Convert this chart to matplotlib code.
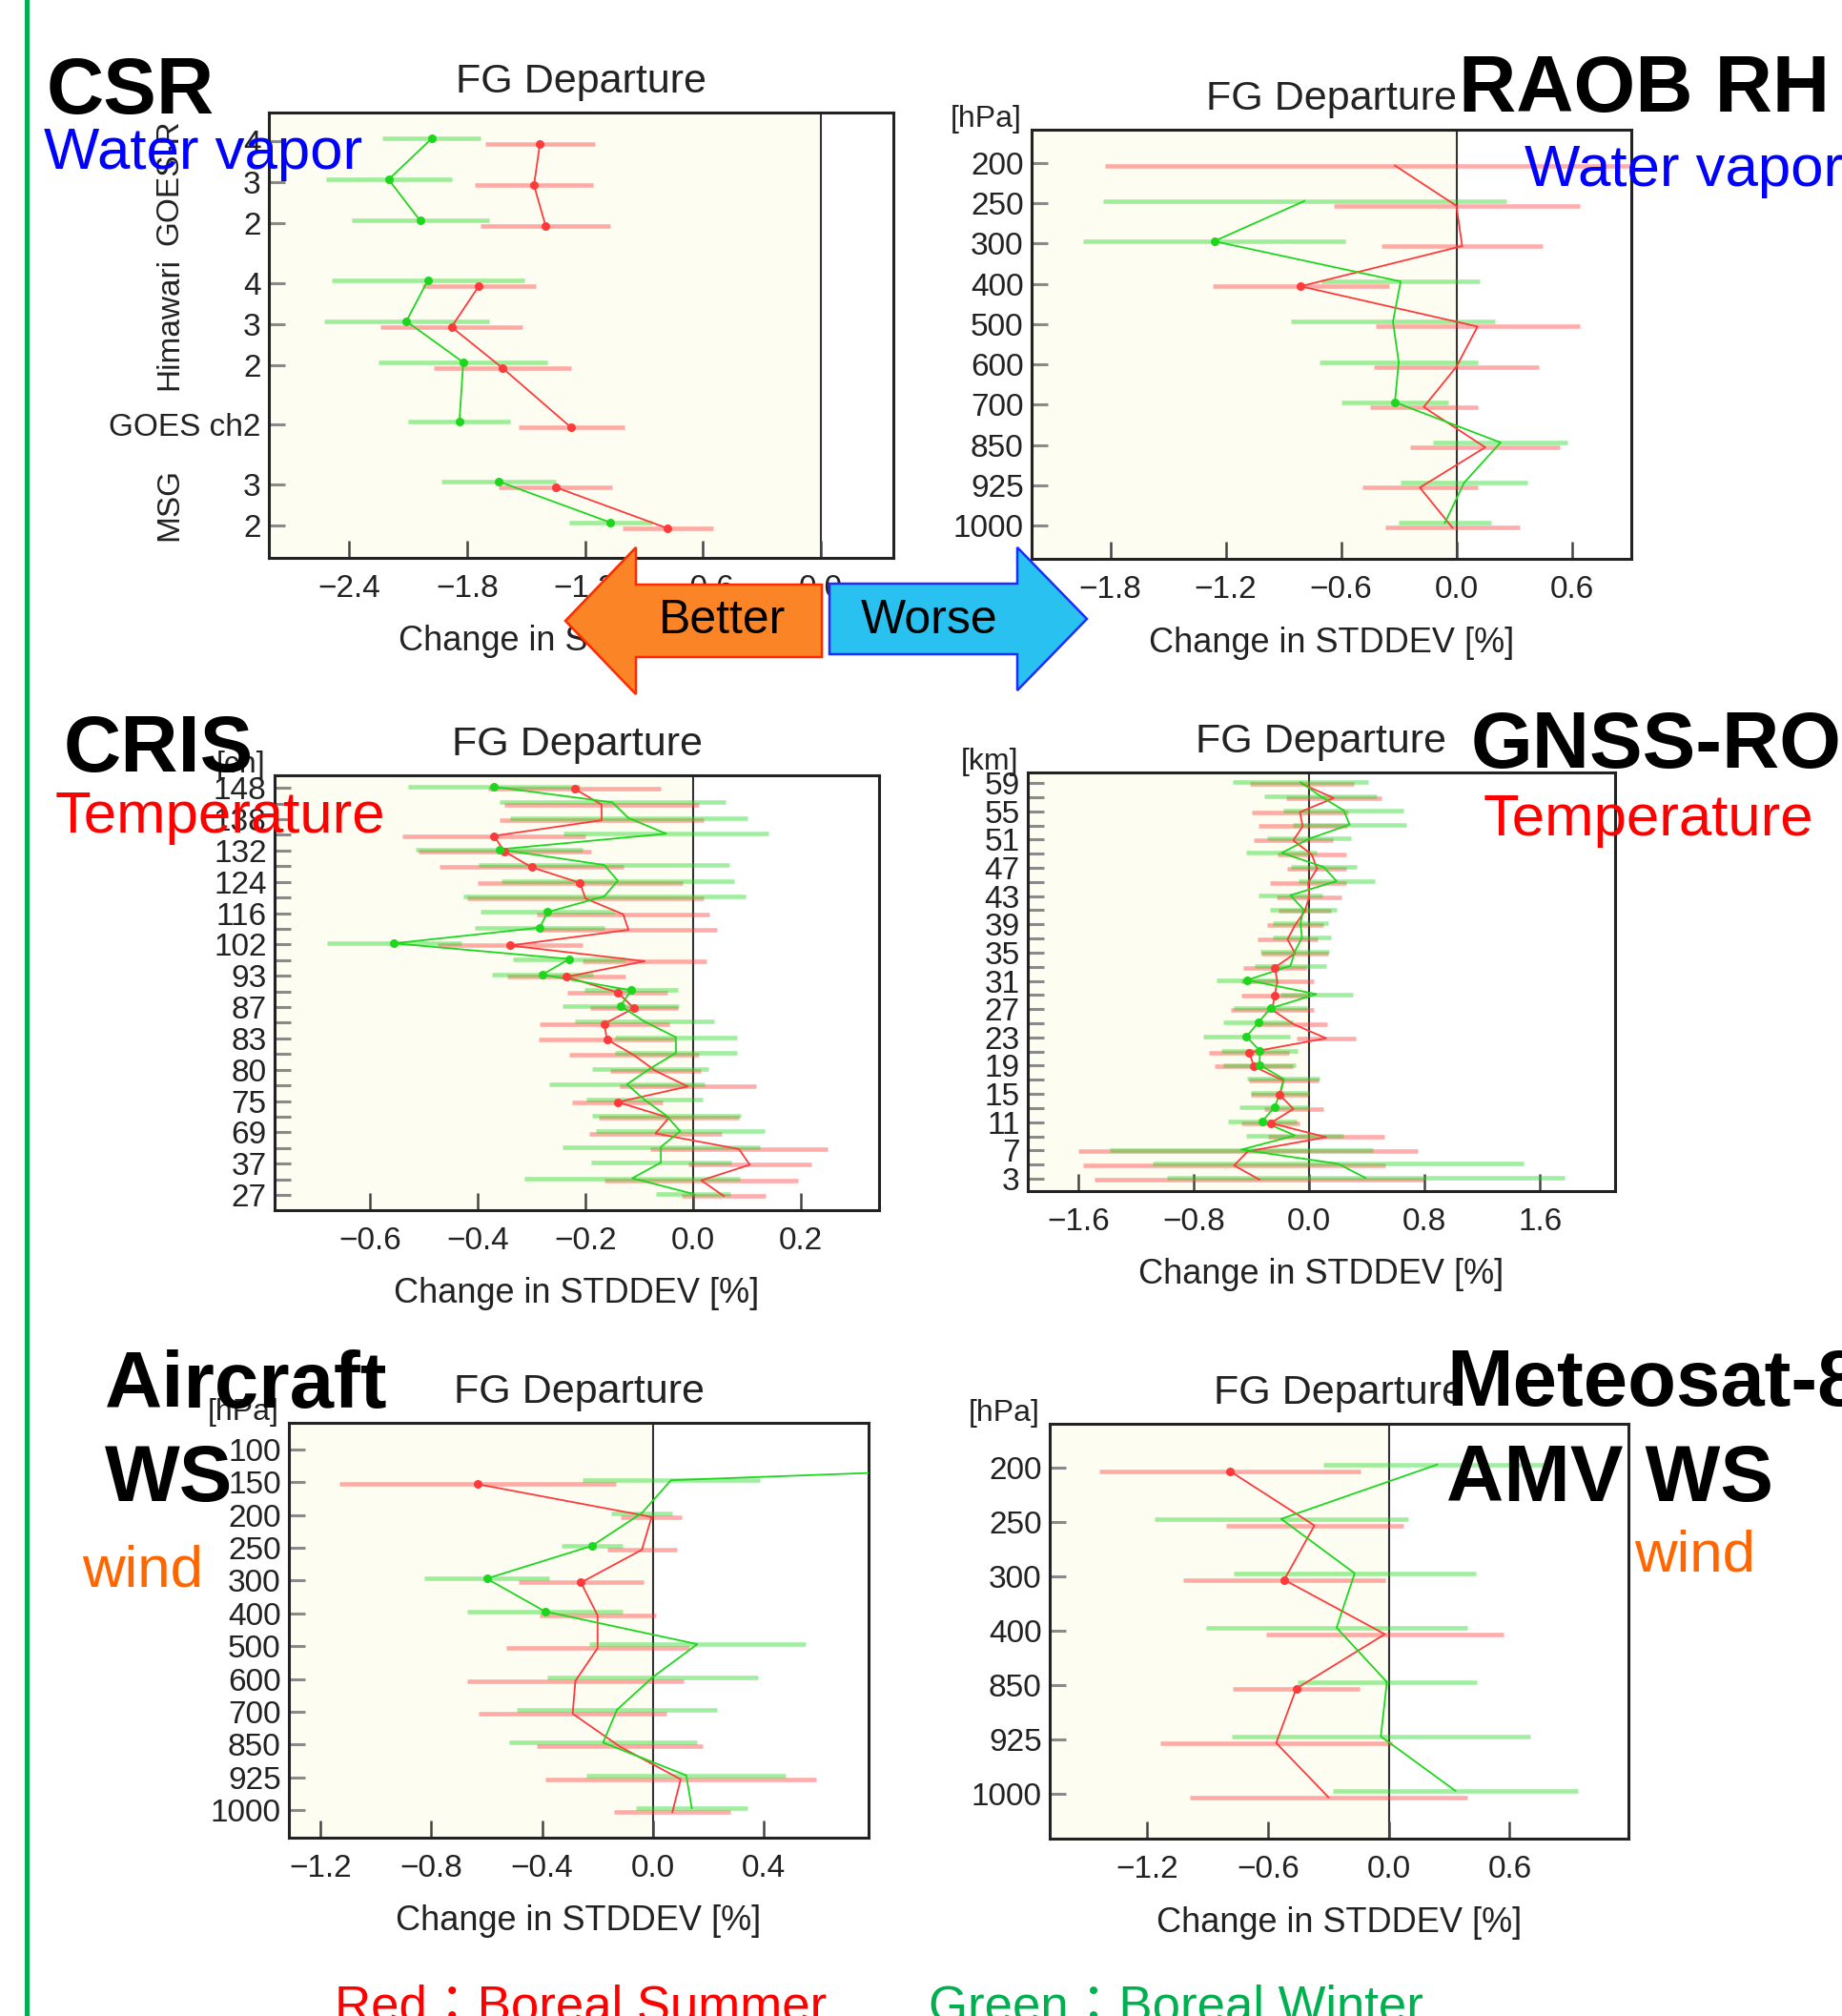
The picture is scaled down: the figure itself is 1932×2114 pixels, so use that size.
import numpy as np
import matplotlib
matplotlib.use("Agg")
import matplotlib.pyplot as plt
from matplotlib.patches import Polygon
from matplotlib.transforms import blended_transform_factory

plt.rcParams['font.family'] = ['Liberation Sans', 'Noto Sans CJK JP', 'DejaVu Sans']

nan = np.nan

# ---------------- data (change in STDDEV [%]) ---------------- #

# CSR water vapour
csr_labels = ['4', '3', '2', '4', '3', '2', 'GOES ch2', '3', '2']
csr_group = ['GOES-R'] * 3 + ['Himawari'] * 3 + ['GOES ch2'] + ['MSG'] * 2
csr_segments = [[0, 1, 2], [3, 4, 5, 6], [7, 8]]
csr_red = [-1.43, -1.46, -1.40, -1.74, -1.88, -1.62, -1.27, -1.35, -0.78]
csr_red_err = [0.28, 0.30, 0.33, 0.29, 0.36, 0.35, 0.27, 0.29, 0.23]
csr_red_sig = [0, 1, 2, 3, 4, 5, 6, 7, 8]
csr_green = [-1.98, -2.20, -2.04, -2.00, -2.11, -1.82, -1.84, -1.64, -1.07]
csr_green_err = [0.25, 0.32, 0.35, 0.49, 0.42, 0.43, 0.26, 0.29, 0.21]
csr_green_sig = [0, 1, 2, 3, 4, 5, 6, 7, 8]

# RAOB RH
raob_levels = ['200', '250', '300', '400', '500', '600', '700', '850', '925', '1000']
raob_red = [-0.32, 0.00, 0.03, -0.81, 0.11, 0.00, -0.17, 0.15, -0.19, -0.02]
raob_red_err = [1.51, 0.64, 0.42, 0.46, 0.53, 0.43, 0.28, 0.39, 0.30, 0.35]
raob_red_sig = [3]
raob_green = [nan, -0.79, -1.26, -0.29, -0.33, -0.30, -0.32, 0.23, 0.04, -0.06]
raob_green_err = [nan, 1.05, 0.68, 0.41, 0.53, 0.41, 0.28, 0.35, 0.33, 0.24]
raob_green_sig = [2, 6]

# CRIS temperature channels (27 channels, every other one labelled)
cris_labels = ['148', '138', '132', '124', '116', '102', '93', '87', '83', '80', '75', '69', '37', '27']
cris_red = [-0.22, -0.17, -0.17, -0.37, -0.35, -0.30, -0.21, -0.20, -0.13, -0.12, -0.34, -0.09, -0.235, -0.14,
            -0.11, -0.165, -0.16, -0.11, -0.07, -0.01, -0.14, -0.045, -0.07, 0.085, 0.105, 0.015, 0.057]
cris_red_err = [0.16, 0.18, 0.19, 0.17, 0.16, 0.17, 0.19, 0.22, 0.16, 0.165, 0.135, 0.115, 0.11, 0.093,
                0.082, 0.12, 0.127, 0.12, 0.084, 0.127, 0.084, 0.13, 0.123, 0.165, 0.114, 0.18, 0.078]
cris_red_sig = [0, 3, 4, 5, 6, 10, 12, 13, 14, 15, 16, 20]
cris_green = [-0.37, -0.15, -0.12, -0.05, -0.36, -0.165, -0.14, -0.165, -0.27, -0.285, -0.555, -0.23, -0.28, -0.115,
              -0.135, -0.09, -0.032, -0.032, -0.08, -0.123, -0.09, -0.05, -0.024, -0.06, -0.06, -0.113, 0.0]
cris_green_err = [0.16, 0.21, 0.22, 0.19, 0.155, 0.233, 0.216, 0.262, 0.125, 0.12, 0.124, 0.105, 0.094, 0.086,
                  0.108, 0.129, 0.113, 0.114, 0.108, 0.145, 0.108, 0.138, 0.157, 0.183, 0.13, 0.20, 0.069]
cris_green_sig = [0, 4, 8, 9, 10, 11, 12, 13, 14]

# GNSS-RO bending angle by impact height [km]
gnss_km = [59, 57, 55, 53, 51, 49, 47, 45, 43, 41, 39, 37, 35, 33, 31,
           29, 27, 25, 23, 21, 19, 17, 15, 13, 11, 9, 7, 5, 3]
gnss_red = [-0.05, 0.17, -0.064, -0.045, -0.11, 0.018, 0.055, -0.007, 0.0, -0.03, -0.098, -0.15, -0.098, -0.239, -0.22,
            -0.241, -0.255, -0.109, 0.118, -0.416, -0.382, -0.177, -0.205, -0.109, -0.268, 0.118, -0.425, -0.52, -0.345]
gnss_red_err = [0.36, 0.33, 0.335, 0.307, 0.275, 0.24, 0.205, 0.267, 0.227, 0.18, 0.193, 0.21, 0.23, 0.218, 0.25,
                0.227, 0.286, 0.233, 0.205, 0.278, 0.27, 0.24, 0.2, 0.205, 0.2, 0.403, 1.175, 1.045, 1.14]
gnss_red_sig = [13, 15, 19, 20, 22, 24]
gnss_green = [-0.06, 0.08, 0.24, 0.28, 0.0, -0.19, 0.1, 0.19, -0.13, -0.04, -0.06, -0.05, -0.1, -0.13, -0.43,
              0.05, -0.268, -0.352, -0.434, -0.343, -0.343, -0.177, -0.2, -0.241, -0.325, -0.098, -0.47, 0.2, 0.39]
gnss_green_err = [0.47, 0.39, 0.416, 0.394, 0.292, 0.244, 0.227, 0.265, 0.224, 0.23, 0.193, 0.2, 0.235, 0.247, 0.21,
                  0.25, 0.252, 0.241, 0.30, 0.265, 0.25, 0.252, 0.202, 0.24, 0.235, 0.337, 0.91, 1.286, 1.378]
gnss_green_sig = [14, 16, 17, 18, 19, 20, 23, 24]

# Aircraft wind speed
air_levels = ['100', '150', '200', '250', '300', '400', '500', '600', '700', '850', '925', '1000']
air_red = [nan, -0.633, -0.005, -0.04, -0.26, -0.20, -0.20, -0.28, -0.29, -0.12, 0.10, 0.07]
air_red_err = [nan, 0.50, 0.11, 0.125, 0.225, 0.21, 0.33, 0.39, 0.34, 0.30, 0.49, 0.21]
air_red_sig = [1, 4]
air_green = [3.3, 0.065, -0.04, -0.22, -0.60, -0.39, 0.16, 0.0, -0.13, -0.18, 0.12, 0.14]
air_green_err = [nan, 0.32, 0.11, 0.11, 0.225, 0.28, 0.39, 0.38, 0.36, 0.34, 0.36, 0.20]
air_green_sig = [3, 4, 5]

# Meteosat-8 AMV wind speed
met_levels = ['200', '250', '300', '400', '850', '925', '1000']
met_red = [-0.79, -0.37, -0.52, -0.02, -0.46, -0.56, -0.30]
met_red_err = [0.65, 0.44, 0.50, 0.59, 0.315, 0.575, 0.69]
met_red_sig = [0, 2, 4]
met_green = [0.24, -0.535, -0.17, -0.26, -0.01, -0.04, 0.33]
met_green_err = [0.565, 0.63, 0.60, 0.65, 0.445, 0.74, 0.61]
met_green_sig = []

# ---------------- figure ---------------- #

W, H = 1933, 2114
fig = plt.figure(figsize=(W / 100, H / 100), dpi=100)

RED = '#ff3a3a'
GREEN = '#1fd61f'
CREAM = '#fdfdf2'
TXT = '#222222'


def add_panel(l, r, t, b):
    return fig.add_axes([l / W, 1 - b / H, (r - l) / W, (b - t) / H])


def fmt(v):
    s = f"{v:.1f}"
    if s == '-0.0':
        s = '0.0'
    return s.replace('-', '\u2212')


def style_panel(ax, xlim, xticks, ylim, yticks, yticklabels, unit=None):
    ax.set_facecolor('white')
    ax.axvspan(xlim[0], 0, color=CREAM, zorder=0, lw=0)
    ax.axvline(0, color='#333333', lw=1.5, zorder=1)
    ax.set_xlim(xlim)
    ax.set_ylim(ylim)
    ax.set_xticks(xticks)
    ax.set_xticklabels([fmt(v) for v in xticks])
    ax.set_yticks(yticks)
    ax.set_yticklabels(yticklabels)
    ax.tick_params(axis='x', direction='in', length=13, width=1.8, color='#444444',
                   labelsize=24, labelcolor=TXT, pad=12)
    ax.tick_params(axis='y', direction='in', length=12, width=2.2, color='#8a8a8a',
                   labelsize=24, labelcolor=TXT, pad=6)
    for sp in ax.spines.values():
        sp.set_linewidth(2.2)
        sp.set_color('#222222')
    ax.set_title('FG Departure', fontsize=31, color=TXT, pad=15)
    bb = ax.get_position()
    w_px, h_px = bb.width * W, bb.height * H
    ax.set_xlabel('Change in STDDEV [%]', fontsize=26, color=TXT)
    ax.xaxis.set_label_coords(0.5, -88 / h_px)
    ax.xaxis.label.set_verticalalignment('center')
    if unit:
        ax.text(-10 / w_px, 1 + 11 / h_px, unit, transform=ax.transAxes, ha='right', va='center',
                fontsize=23, color=TXT)


def draw_series(ax, y, vals, errs, sig, color, segments=None):
    y = np.asarray(y, float)
    vals = np.asarray(vals, float)
    errs = np.asarray(errs, float)
    ax.errorbar(vals, y, xerr=errs, fmt='none', ecolor=color, elinewidth=3.3, alpha=0.42,
                capsize=0, zorder=3)
    segs = segments if segments else [list(range(len(vals)))]
    for s in segs:
        ax.plot(vals[s], y[s], color=color, lw=1.3, zorder=4)
    if len(sig):
        ax.plot(vals[sig], y[sig], 'o', color=color, ms=6.5, mec='none', zorder=5)


def draw_pair(ax, pos, red, red_err, red_sig, green, green_err, green_sig, dy, segments=None):
    pos = np.asarray(pos, float)
    draw_series(ax, pos + dy, red, red_err, red_sig, RED, segments)
    draw_series(ax, pos - dy, green, green_err, green_sig, GREEN, segments)


# --- CSR ---
csr_pos = []
p = 0.0
for i, g in enumerate(csr_group):
    if i > 0:
        p += 1.0 if g == csr_group[i - 1] else 1.45
    csr_pos.append(p)
ax1 = add_panel(282, 937, 118, 585)
style_panel(ax1, (-2.81, 0.37), [-2.4, -1.8, -1.2, -0.6, 0.0], (10.14, -0.70), csr_pos, csr_labels)
draw_pair(ax1, csr_pos, csr_red, csr_red_err, csr_red_sig, csr_green, csr_green_err, csr_green_sig,
          0.07, csr_segments)
bt = blended_transform_factory(ax1.transAxes, ax1.transData)
for name in ['GOES-R', 'Himawari', 'MSG']:
    yc = np.mean([csr_pos[i] for i, g in enumerate(csr_group) if g == name])
    ax1.text(-0.159, yc, name, transform=bt, rotation=90, ha='center', va='center',
             fontsize=24, color=TXT)

# --- RAOB RH ---
ax2 = add_panel(1082, 1711, 136, 586)
raob_pos = list(range(len(raob_levels)))
style_panel(ax2, (-2.21, 0.91), [-1.8, -1.2, -0.6, 0.0, 0.6], (9.83, -0.83), raob_pos, raob_levels, '[hPa]')
draw_pair(ax2, raob_pos, raob_red, raob_red_err, raob_red_sig, raob_green, raob_green_err, raob_green_sig, 0.06)

# --- CRIS ---
ax3 = add_panel(288, 922, 813, 1269)
cris_pos = list(range(len(cris_red)))
cris_ticklabels = [cris_labels[i // 2] if i % 2 == 0 else '' for i in cris_pos]
style_panel(ax3, (-0.777, 0.345), [-0.6, -0.4, -0.2, 0.0, 0.2], (26.97, -0.80), cris_pos, cris_ticklabels, '[ch]')
draw_pair(ax3, cris_pos, cris_red, cris_red_err, cris_red_sig, cris_green, cris_green_err, cris_green_sig, 0.07)

# --- GNSS-RO ---
ax4 = add_panel(1078, 1694, 810, 1249)
gnss_ticklabels = [str(k) if (59 - k) % 4 == 0 else '' for k in gnss_km]
style_panel(ax4, (-1.95, 2.12), [-1.6, -0.8, 0.0, 0.8, 1.6], (1.25, 60.5), gnss_km, gnss_ticklabels, '[km]')
draw_pair(ax4, gnss_km, gnss_red, gnss_red_err, gnss_red_sig, gnss_green, gnss_green_err, gnss_green_sig, -0.12)

# --- Aircraft WS ---
ax5 = add_panel(303, 911, 1492, 1927)
air_pos = list(range(len(air_levels)))
style_panel(ax5, (-1.314, 0.778), [-1.2, -0.8, -0.4, 0.0, 0.4], (11.84, -0.81), air_pos, air_levels, '[hPa]')
draw_pair(ax5, air_pos, air_red, air_red_err, air_red_sig, air_green, air_green_err, air_green_sig, 0.06)

# --- Meteosat-8 AMV WS ---
ax6 = add_panel(1101, 1708, 1493, 1928)
met_pos = list(range(len(met_levels)))
style_panel(ax6, (-1.685, 1.19), [-1.2, -0.6, 0.0, 0.6], (6.82, -0.81), met_pos, met_levels, '[hPa]')
draw_pair(ax6, met_pos, met_red, met_red_err, met_red_sig, met_green, met_green_err, met_green_sig, 0.06)

# ---------------- overlay: labels and arrows (pixel coordinates) ---------------- #

ov = fig.add_axes([0, 0, 1, 1])
ov.set_xlim(0, W)
ov.set_ylim(H, 0)
ov.axis('off')
ov.set_zorder(10)
ov.patch.set_alpha(0)

ov.plot([28.5, 28.5], [0, H], color='#00b050', lw=3.6)

big = dict(fontsize=60, fontweight='bold', color='black', ha='left', va='baseline')
sub = dict(fontsize=44.5, ha='left', va='baseline')
ov.text(49, 119, 'CSR', **big)
ov.text(46, 177, 'Water vapor', color='#0000ff', **sub)
ov.text(1530, 117, 'RAOB RH', **big)
ov.text(1599, 195, 'Water vapor', color='#0000ff', **sub)
ov.text(67, 809, 'CRIS', **big)
ov.text(58, 873, 'Temperature', color='#ff0000', **sub)
ov.text(1543, 805, 'GNSS-RO', **big)
ov.text(1556, 876, 'Temperature', color='#ff0000', **sub)
ov.text(110, 1476, 'Aircraft', **big)
ov.text(110, 1574, 'WS', **big)
ov.text(86, 1663, 'wind', color='#ff6600', **sub)
ov.text(1517, 1474, 'Meteosat-8', **big)
ov.text(1517, 1574, 'AMV WS', **big)
ov.text(1714, 1648, 'wind', color='#ff6600', **sub)
ov.text(351, 2119, 'Red\uff1aBoreal Summer', fontsize=38, color='#ff0000', ha='left', va='baseline')
ov.text(974, 2119, 'Green\uff1aBoreal Winter', fontsize=38, color='#00b050', ha='left', va='baseline')

better = Polygon([(862, 613), (667, 613), (667, 574), (593, 651), (667, 728), (667, 689), (862, 689)],
                 closed=True, facecolor='#fb8526', edgecolor='#ff2a00', lw=1.8)
worse = Polygon([(870, 612), (1067, 612), (1067, 574), (1140, 649), (1067, 724), (1067, 686), (870, 686)],
                closed=True, facecolor='#29c1ef', edgecolor='#1a2cff', lw=1.8)
ov.add_patch(better)
ov.add_patch(worse)
ov.text(758, 651, 'Better', fontsize=36, color='black', ha='center', va='center')
ov.text(975, 651, 'Worse', fontsize=36, color='black', ha='center', va='center')

fig.savefig('out.png', dpi=100)
